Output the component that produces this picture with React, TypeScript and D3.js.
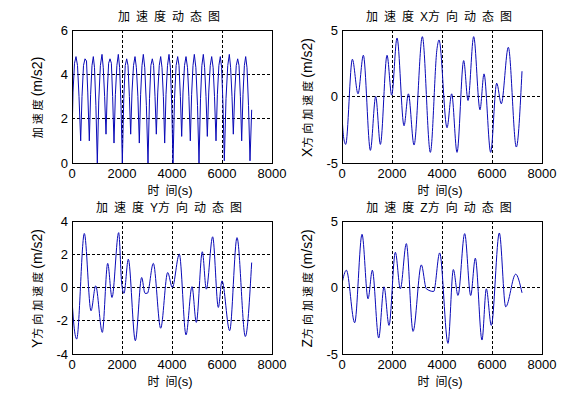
import { useEffect, useRef } from 'react'
import * as d3 from 'd3'

const WIDTH = 576
const HEIGHT = 395
const PLOT_W = 200
const PLOT_H = 133
const FONT = '"Liberation Sans", Arial, "Noto Sans CJK SC", sans-serif'

const X_TICKS = [0, 2000, 4000, 6000, 8000]
const X_GRID = [2000, 4000, 6000]

// [time (s), acceleration (m/s2)]
const magnitude: [number, number][] = [
  [0, 1.1], [40, 3.2], [100, 4.5], [160, 4.8], [220, 4.4], [280, 3.0], [347, 1.0],
  [400, 3.0], [460, 4.4], [520, 4.7], [580, 4.6], [630, 3.2], [693, 1.0],
  [745, 3.1], [800, 4.4], [853, 4.8], [900, 4.3], [955, 2.6], [1013, 0.0],
  [1070, 2.8], [1135, 4.4], [1200, 4.9], [1250, 4.3], [1305, 3.0], [1360, 1.3],
  [1410, 3.2], [1465, 4.5], [1520, 4.7], [1575, 4.5], [1625, 3.0], [1680, 0.9],
  [1735, 3.1], [1795, 4.4], [1853, 4.9], [1905, 4.3], [1960, 2.6], [2013, 0.0],
  [2070, 2.9], [2130, 4.4], [2187, 4.7], [2240, 4.4], [2295, 3.0], [2347, 1.3],
  [2400, 3.2], [2460, 4.4], [2520, 4.8], [2575, 4.3], [2635, 3.0], [2693, 0.9],
  [2745, 3.1], [2800, 4.4], [2853, 4.9], [2910, 4.3], [2975, 2.6], [3040, 0.0],
  [3100, 2.9], [3155, 4.4], [3213, 4.7], [3265, 4.4], [3320, 3.0], [3373, 1.3],
  [3430, 3.2], [3490, 4.4], [3547, 4.8], [3600, 4.3], [3655, 3.0], [3707, 0.9],
  [3760, 3.1], [3820, 4.4], [3880, 4.9], [3935, 4.3], [3990, 2.6], [4040, 0.0],
  [4100, 2.9], [4165, 4.4], [4227, 4.8], [4280, 4.4], [4335, 3.0], [4387, 1.2],
  [4440, 3.2], [4500, 4.4], [4560, 4.8], [4620, 4.3], [4675, 3.0], [4733, 1.0],
  [4785, 3.1], [4840, 4.4], [4893, 4.9], [4955, 4.3], [5020, 2.6], [5080, 0.0],
  [5140, 2.9], [5195, 4.4], [5253, 4.9], [5305, 4.3], [5360, 3.0], [5413, 1.2],
  [5470, 3.2], [5530, 4.4], [5587, 4.8], [5645, 4.3], [5700, 3.0], [5760, 1.0],
  [5815, 3.1], [5875, 4.4], [5933, 4.8], [5985, 4.3], [6040, 2.6], [6093, 0.1],
  [6160, 2.9], [6230, 4.4], [6293, 4.9], [6345, 4.3], [6400, 3.0], [6453, 1.3],
  [6510, 3.2], [6570, 4.4], [6627, 4.7], [6680, 4.4], [6735, 3.0], [6787, 1.0],
  [6840, 3.1], [6895, 4.4], [6947, 4.8], [7000, 4.3], [7060, 2.6], [7120, 0.1],
  [7187, 2.4],
]

const accelX: [number, number][] = [
  [0, -1.4], [60, -3.0], [148, -3.6], [414, 2.8], [641, 0.2], [855, 3.1],
  [1135, -4.05], [1348, 0.0], [1535, -3.6], [1801, 3.1], [1988, 0.1], [2201, 4.4],
  [2481, -2.2], [2655, 0.2], [2881, -3.65], [3214, 4.5], [3534, -4.2], [3801, 3.6],
  [3881, 4.25], [4201, -2.35], [4387, 0.2], [4601, -4.2], [4867, 2.7], [5041, -0.3],
  [5267, 4.5], [5520, -1.0], [5680, 1.7], [5947, -4.2], [6187, 1.0], [6372, -0.55],
  [6653, 3.7], [6973, -3.8], [7200, 1.9],
]

const accelY: [number, number][] = [
  [0, -0.7], [60, -2.0], [187, -3.1], [493, 3.25], [760, -1.4], [947, 0.1],
  [1213, -2.7], [1427, 1.45], [1600, -0.6], [1867, 3.3], [1990, 0.2], [2080, -0.35],
  [2253, 1.7], [2533, -3.2], [2787, 0.6], [2920, -0.35], [3013, -0.35], [3253, 1.45],
  [3547, -2.45], [3827, 0.9], [4013, 0.0], [4293, 2.0], [4560, -2.85], [4800, 0.05],
  [4973, -2.1], [5213, 2.15], [5373, -0.1], [5627, 3.05], [5853, -1.2], [6000, 0.4],
  [6307, -2.6], [6600, 3.0], [6933, -2.95], [7187, 1.5],
]

const accelZ: [number, number][] = [
  [0, 0.3], [175, 1.3], [508, -2.65], [801, 4.0], [1041, -0.85], [1214, 1.3],
  [1468, -3.8], [1681, 0.05], [1881, -2.85], [2134, 2.65], [2334, -0.1], [2574, 3.3],
  [2841, -3.3], [3174, 1.7], [3374, -0.1], [3667, -0.3], [3907, 2.6], [4240, -4.2],
  [4453, 1.35], [4640, -0.6], [4907, 4.05], [5147, -0.6], [5333, 2.2], [5600, -3.95],
  [5773, -0.1], [5973, -2.85], [6293, 4.1], [6547, -1.45], [6947, 1.0], [7200, -0.4],
]

type TextPart = { text: string; cjk: boolean }

type PanelConfig = {
  id: string
  left: number
  top: number
  title: TextPart[]
  yLabel: TextPart[]
  yDomain: [number, number]
  yTicks: number[]
  yGrid: number[]
  data: [number, number][]
  smooth: boolean
}

const panels: PanelConfig[] = [
  {
    id: 'mag',
    left: 72,
    top: 30,
    title: [{ text: '加速度动态图', cjk: true }],
    yLabel: [
      { text: '加速度', cjk: true },
      { text: '(m/s2)', cjk: false },
    ],
    yDomain: [0, 6],
    yTicks: [0, 2, 4, 6],
    yGrid: [2, 4],
    data: magnitude,
    smooth: false,
  },
  {
    id: 'x',
    left: 342,
    top: 30,
    title: [
      { text: '加速度', cjk: true },
      { text: 'X', cjk: false },
      { text: '方向动态图', cjk: true },
    ],
    yLabel: [
      { text: 'X', cjk: false },
      { text: '方向加速度', cjk: true },
      { text: '(m/s2)', cjk: false },
    ],
    yDomain: [-5, 5],
    yTicks: [-5, 0, 5],
    yGrid: [0],
    data: accelX,
    smooth: true,
  },
  {
    id: 'y',
    left: 72,
    top: 221,
    title: [
      { text: '加速度', cjk: true },
      { text: 'Y', cjk: false },
      { text: '方向动态图', cjk: true },
    ],
    yLabel: [
      { text: 'Y', cjk: false },
      { text: '方向加速度', cjk: true },
      { text: '(m/s2)', cjk: false },
    ],
    yDomain: [-4, 4],
    yTicks: [-4, -2, 0, 2, 4],
    yGrid: [-2, 0, 2],
    data: accelY,
    smooth: true,
  },
  {
    id: 'z',
    left: 342,
    top: 221,
    title: [
      { text: '加速度', cjk: true },
      { text: 'Z', cjk: false },
      { text: '方向动态图', cjk: true },
    ],
    yLabel: [
      { text: 'Z', cjk: false },
      { text: '方向加速度', cjk: true },
      { text: '(m/s2)', cjk: false },
    ],
    yDomain: [-5, 5],
    yTicks: [-5, 0, 5],
    yGrid: [0],
    data: accelZ,
    smooth: true,
  },
]

function drawPanel(root: d3.Selection<SVGSVGElement, unknown, null, undefined>, config: PanelConfig) {
  const x = d3.scaleLinear().domain([0, 8000]).range([config.left, config.left + PLOT_W])
  const y = d3
    .scaleLinear()
    .domain(config.yDomain)
    .range([config.top + PLOT_H, config.top])
  const bottom = config.top + PLOT_H
  const g = root.append('g')

  g.append('clipPath')
    .attr('id', `clip-${config.id}`)
    .append('rect')
    .attr('x', config.left)
    .attr('y', config.top)
    .attr('width', PLOT_W)
    .attr('height', PLOT_H)

  // dotted grid
  const grid = g.append('g')
  grid
    .selectAll('line.gx')
    .data(X_GRID)
    .join('line')
    .attr('class', 'gx')
    .attr('x1', (d) => x(d))
    .attr('x2', (d) => x(d))
    .attr('y1', config.top)
    .attr('y2', bottom)
  grid
    .selectAll('line.gy')
    .data(config.yGrid)
    .join('line')
    .attr('class', 'gy')
    .attr('x1', config.left)
    .attr('x2', config.left + PLOT_W)
    .attr('y1', (d) => y(d))
    .attr('y2', (d) => y(d))
  grid
    .selectAll('line')
    .attr('stroke', '#000')
    .attr('stroke-width', 1)
    .attr('stroke-dasharray', '3 2')
    .attr('shape-rendering', 'crispEdges')

  const line = d3
    .line<[number, number]>()
    .x((d) => x(d[0]))
    .y((d) => y(d[1]))
    .curve(config.smooth ? d3.curveMonotoneX : d3.curveLinear)

  g.append('path')
    .datum(config.data)
    .attr('clip-path', `url(#clip-${config.id})`)
    .attr('fill', 'none')
    .attr('stroke', '#0a0ab8')
    .attr('stroke-width', 1)
    .attr('stroke-linejoin', 'round')
    .attr('d', line)

  g.append('rect')
    .attr('x', config.left)
    .attr('y', config.top)
    .attr('width', PLOT_W)
    .attr('height', PLOT_H)
    .attr('fill', 'none')
    .attr('stroke', '#000')
    .attr('stroke-width', 1)
    .attr('shape-rendering', 'crispEdges')

  g.append('g')
    .selectAll('text')
    .data(X_TICKS)
    .join('text')
    .attr('x', (d) => x(d))
    .attr('y', bottom + 15)
    .attr('text-anchor', 'middle')
    .attr('font-size', 13)
    .attr('font-family', FONT)
    .attr('fill', '#000')
    .text((d) => String(d))

  g.append('g')
    .selectAll('text')
    .data(config.yTicks)
    .join('text')
    .attr('x', config.left - 4)
    .attr('y', (d) => y(d))
    .attr('dy', '0.36em')
    .attr('text-anchor', 'end')
    .attr('font-size', 13)
    .attr('font-family', FONT)
    .attr('fill', '#000')
    .text((d) => String(d))

  const title = g
    .append('text')
    .attr('x', config.left + PLOT_W / 2)
    .attr('y', config.top - 9)
    .attr('text-anchor', 'middle')
    .attr('font-size', 12)
    .attr('font-family', FONT)
    .attr('fill', '#000')
  config.title.forEach((part) => {
    title
      .append('tspan')
      .attr('letter-spacing', part.cjk ? 6 : 0)
      .text(part.text)
  })

  const xLabel = g
    .append('text')
    .attr('x', config.left + PLOT_W / 2 - 2)
    .attr('y', bottom + 32)
    .attr('text-anchor', 'middle')
    .attr('font-size', 12)
    .attr('font-family', FONT)
    .attr('fill', '#000')
  xLabel.append('tspan').attr('letter-spacing', 6).text('时')
  xLabel.append('tspan').text('间')
  xLabel.append('tspan').attr('font-size', 13).text('(s)')

  const yLabel = g
    .append('text')
    .attr('transform', `translate(${config.left - 30},${config.top + PLOT_H / 2 + 1}) rotate(-90)`)
    .attr('text-anchor', 'middle')
    .attr('font-family', FONT)
    .attr('fill', '#000')
  config.yLabel.forEach((part) => {
    yLabel
      .append('tspan')
      .attr('font-size', part.cjk ? 11 : 14)
      .attr('letter-spacing', part.cjk ? 3 : 0)
      .text(part.text)
  })
}

export default function App() {
  const svgRef = useRef<SVGSVGElement>(null)

  useEffect(() => {
    const svg = d3.select(svgRef.current as SVGSVGElement)
    svg.selectAll('*').remove()
    svg.attr('viewBox', `0 0 ${WIDTH} ${HEIGHT}`)
    svg.append('rect').attr('width', WIDTH).attr('height', HEIGHT).attr('fill', '#fff')
    panels.forEach((config) => drawPanel(svg, config))
  }, [])

  return (
    <svg
      ref={svgRef}
      width={WIDTH}
      height={HEIGHT}
      style={{ position: 'absolute', left: 0, top: 0, display: 'block' }}
    />
  )
}
